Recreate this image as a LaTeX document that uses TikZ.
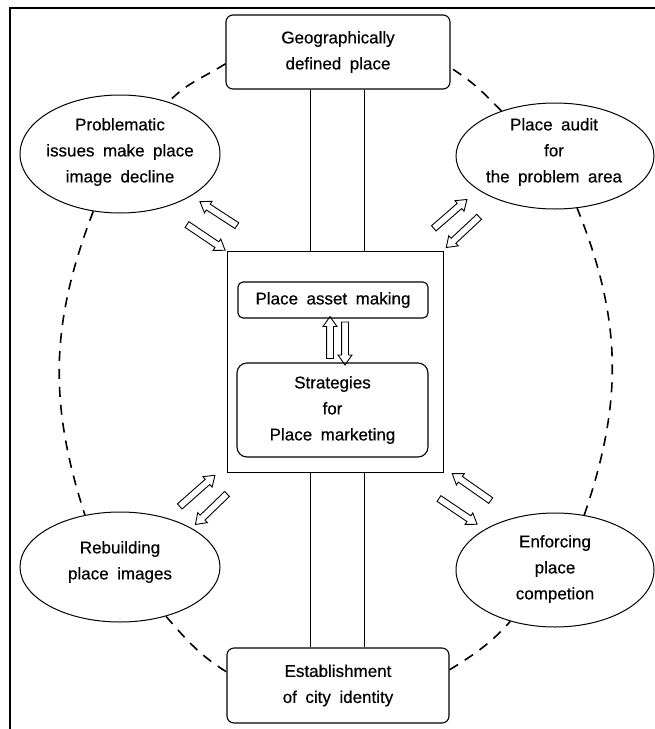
\documentclass[tikz,border=0pt]{standalone}
\usepackage{fontspec}
\setmainfont{Liberation Sans}[WordSpace=1.8, FakeBold=0.4]
\usetikzlibrary{shapes.geometric,shapes.arrows}
\begin{document}
\begin{tikzpicture}[x=1pt,y=1pt,
  txt/.style={font=\fontsize{17}{26}\selectfont, align=center, inner sep=0pt},
  rbox/.style={draw, line width=1.1pt, rounded corners=7pt, inner sep=0pt, txt},
  sqbox/.style={draw, line width=1pt, inner sep=0pt},
  ell/.style={draw, ellipse, line width=1pt, inner sep=0pt},
  dsh/.style={dash pattern=on 10pt off 8pt, line width=1.6pt},
  harr/.style={draw, single arrow, line width=0.9pt, inner xsep=0pt, inner ysep=3pt,
    single arrow head extend=3.5pt, single arrow tip angle=70, minimum height=#1},
  thinline/.style={line width=0.7pt}]
\useasboundingbox (0,0) rectangle (655,-729);
% frame
\coordinate (fr1) at (10,-729); \coordinate (fr2) at (10,-8); \coordinate (fr3) at (655,-8);
\draw[line width=1.4pt] (fr1) -- (fr2) -- (fr3);

% boxes
\node[rbox, minimum width=224pt, minimum height=74pt] (top) at (338,-52) {Geographically\\defined place};
\node[rbox, minimum width=222pt, minimum height=75pt] (bot) at (338,-685.5) {Establishment\\of city identity};
\node[sqbox, minimum width=216pt, minimum height=221pt] (ctr) at (335,-361.5) {};
\node[rbox, rounded corners=5pt, minimum width=190pt, minimum height=36pt] (asset) at (333,-300) {Place asset making};
\node[rbox, rounded corners=10pt, minimum width=191pt, minimum height=94pt] (strat) at (332.5,-410) {Strategies\\for\\Place marketing};

% ellipses
\node[ell, minimum width=200pt, minimum height=118pt] (tl) at (120,-154) {};
\node[ell, minimum width=198pt, minimum height=106pt] (tr) at (555,-156) {};
\node[ell, minimum width=200pt, minimum height=110pt] (bl) at (120,-567) {};
\node[ell, minimum width=198pt, minimum height=114pt] (br) at (555,-570) {};
\node[txt] (tlt) at (120,-152) {Problematic\\issues make place\\image decline};
\node[txt] (trt) at (554,-152) {Place audit\\for\\the problem area};
\node[txt] (blt) at (120,-562) {Rebuilding\\place images};
\node[txt] (brt) at (555,-569) {Enforcing\\place\\competion};

% vertical double lines
\coordinate (xa) at (310,0); \coordinate (xb) at (364,0);
\draw[thinline] (top.south -| xa) -- (ctr.north -| xa);
\draw[thinline] (top.south -| xb) -- (ctr.north -| xb);
\draw[thinline] (ctr.south -| xa) -- (bot.north -| xa);
\draw[thinline] (ctr.south -| xb) -- (bot.north -| xb);

% dashed ring
\draw[dsh] (top.186) to[out=212,in=46] (tl.47);
\draw[dsh] (tl.245) to[out=249,in=108] (bl.124);
\draw[dsh] (bl.313) to[out=311,in=148] (bot.173);
\draw[dsh] (bot.8) to[out=32,in=228] (br.229);
\draw[dsh] (br.62) to[out=71,in=292] (tr.293);
\draw[dsh] (tr.140) to[out=134,in=328] (top.352);

% hollow arrows
\node[harr=44pt, rotate=147] (a1) at (220.5,-215) {};
\node[harr=46pt, rotate=326] (a2) at (204,-236) {};
\node[harr=44pt, rotate=41] (a3) at (448.5,-215.5) {};
\node[harr=45pt, rotate=223] (a4) at (464.5,-230.5) {};
\node[harr=47pt, rotate=41.5] (a5) at (195.5,-492.5) {};
\node[harr=44pt, rotate=224] (a6) at (213,-507.5) {};
\node[harr=47pt, rotate=145] (a7) at (473.5,-488.5) {};
\node[harr=46pt, rotate=326] (a8) at (456,-510) {};
\node[harr=42pt, rotate=90] (a9) at (330,-340) {};
\node[harr=43pt, rotate=270] (a10) at (345,-341) {};
\end{tikzpicture}
\end{document}
